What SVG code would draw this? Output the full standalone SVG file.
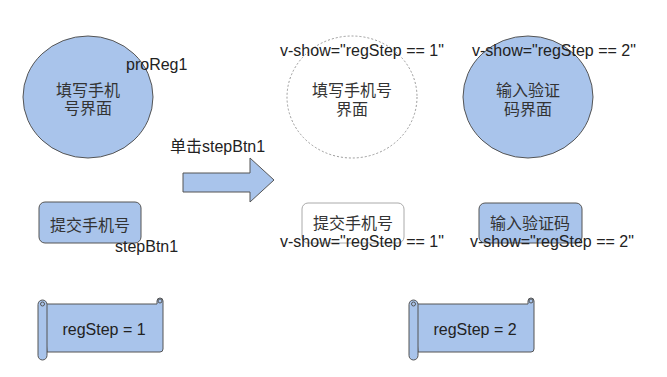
<svg xmlns="http://www.w3.org/2000/svg" width="667" height="377" viewBox="0 0 667 377">
<style>
text{font-family:"Liberation Sans","Noto Sans CJK SC",sans-serif;font-size:16px;fill:#222}
.cjk{fill:#333}
.mid{text-anchor:middle}
.blue{fill:#A9C4EB;stroke:#555;stroke-width:1}
.ghost{fill:#fff;stroke:#999;stroke-width:1;stroke-dasharray:2 2}
.wbtn{fill:#fff;stroke:#aaa;stroke-width:1}
</style>
<defs>
<g id="scroll">
<path class="blue" d="M5 7 L119 7 L119 4 A3 3 0 0 1 125 4 L125 52 A3 3 0 0 1 122 55 L9 55 Z"/>
<circle cx="122" cy="4" r="2" fill="none" stroke="#555"/>
<rect class="blue" x="0" y="3" width="9" height="60" rx="4.5"/>
<circle cx="4.5" cy="7" r="2" fill="none" stroke="#555"/>
</g>
</defs>
<g id="proReg1">
<ellipse class="blue" cx="88" cy="97" rx="65" ry="61"/>
<text class="cjk mid" x="88" y="96">填写手机</text>
<text class="cjk mid" x="88" y="114">号界面</text>
<text x="126" y="70">proReg1</text>
</g>
<g id="stepBtn1">
<rect class="blue" x="39" y="202" width="102" height="41" rx="6"/>
<text class="cjk mid" x="90" y="231">提交手机号</text>
<text x="115" y="252">stepBtn1</text>
</g>
<g id="connectors">
<polygon class="blue" points="183,173 250,173 250,158 274,180 250,202 250,192 183,192"/>
<text x="170" y="152">单击stepBtn1</text>
</g>
<g id="reg1-hidden">
<ellipse class="ghost" cx="352" cy="97" rx="65" ry="61"/>
<text class="cjk mid" x="352" y="96">填写手机号</text>
<text class="cjk mid" x="352" y="115">界面</text>
<text x="280" y="56">v-show="regStep == 1"</text>
</g>
<g id="reg2">
<ellipse class="blue" cx="528" cy="97" rx="65" ry="61"/>
<text class="cjk mid" x="528" y="96">输入验证</text>
<text class="cjk mid" x="528" y="115">码界面</text>
<text x="472" y="56">v-show="regStep == 2"</text>
</g>
<g id="btn1-hidden">
<rect class="wbtn" x="302" y="203" width="102" height="40" rx="6"/>
<text class="cjk mid" x="353" y="229">提交手机号</text>
<text x="280" y="247">v-show="regStep == 1"</text>
</g>
<g id="btn2">
<rect class="blue" x="479" y="203" width="103" height="40" rx="6"/>
<text class="cjk mid" x="530" y="229">输入验证码</text>
<text x="470" y="247">v-show="regStep == 2"</text>
</g>
<g id="regStep1">
<use href="#scroll" x="38" y="297"/>
<text class="mid" x="104" y="335">regStep = 1</text>
</g>
<g id="regStep2">
<use href="#scroll" x="409" y="297"/>
<text class="mid" x="475" y="335">regStep = 2</text>
</g>
</svg>
